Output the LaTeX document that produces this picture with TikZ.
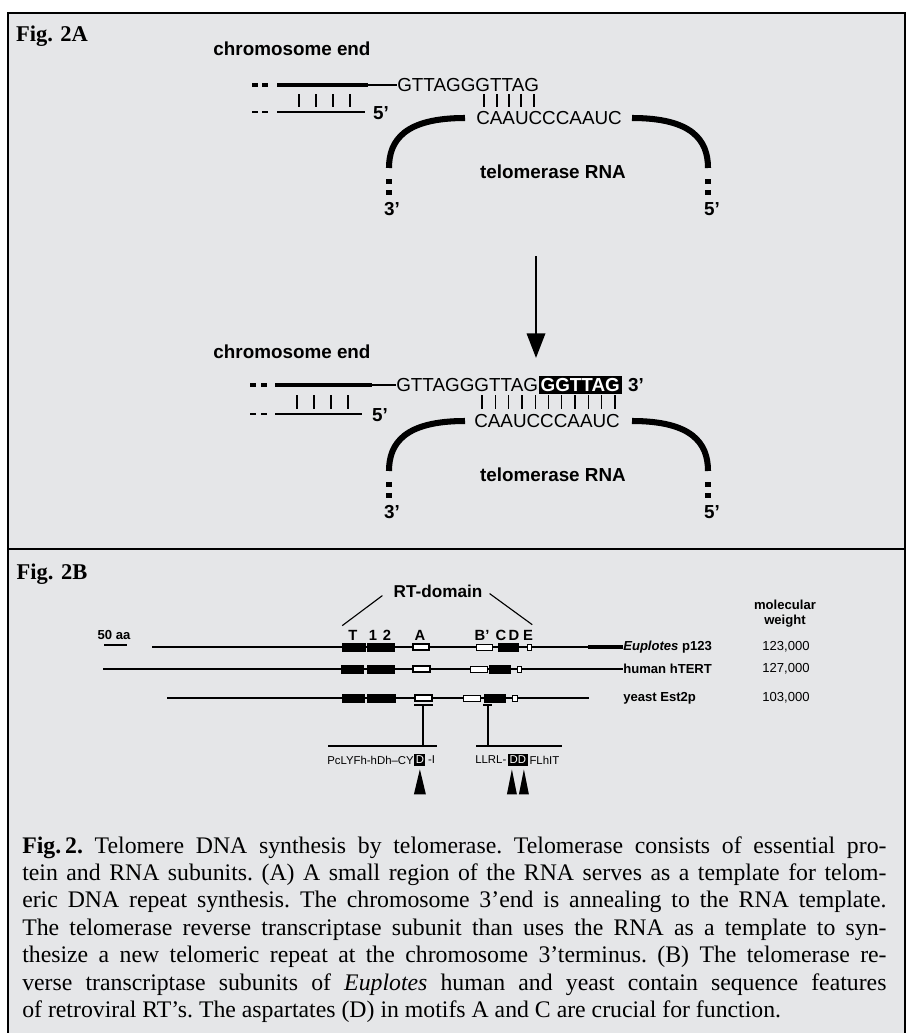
\documentclass[tikz,border=0pt]{standalone}
\usepackage{fontspec}
\setmainfont{Liberation Serif}
\setsansfont{Liberation Sans}
\newfontfamily\capfont{Liberation Serif}
\usetikzlibrary{calc,arrows.meta}
\definecolor{figgray}{RGB}{229,230,232}

\tikzset{
  figlbl/.style={font=\bfseries\fontsize{16}{18}\selectfont, inner sep=0pt},
  lbl/.style={font=\sffamily\bfseries\fontsize{13.4}{16}\selectfont, inner sep=0pt},
  seq/.style={font=\sffamily\fontsize{13.4}{16}\selectfont, inner sep=0pt},
  small/.style={font=\sffamily\bfseries\fontsize{9.3}{11}\selectfont, inner sep=0pt},
  motif/.style={font=\sffamily\bfseries\fontsize{10.5}{12}\selectfont, inner sep=0pt},
  aa/.style={font=\sffamily\fontsize{8.1}{10}\selectfont, inner sep=0pt},
  dbox/.style={aa, fill=black, text=white, inner xsep=1pt, inner ysep=1.5pt},
  strand/.style={line width=2.2pt},
  thinstrand/.style={line width=1.1pt},
  rna/.style={line width=4.3pt},
  pair/.style={line width=0.9pt},
  prot/.style={line width=1.4pt},
  abox/.style={fill=white, line width=2pt},
  wbox/.style={fill=white, line width=0.7pt},
}

\begin{document}
\begin{tikzpicture}[x=0.025cm,y=-0.025cm]
		\useasboundingbox (0,0) rectangle (912,1033);
		\clip (0,0) rectangle (912,1033);
		%%%%% FRAME %%%%%
		\draw[fill=figgray, line width=0.9pt] (8,13) rectangle (905,1050);
		\draw[line width=0.9pt] (8,549) -- (905,549);
		
		%%%%% PANEL A, BEFORE %%%%%
		\node[figlbl] (figA) at (52,36) {Fig. 2A};
		\node[lbl] (chrA) at (292,49) {chromosome end};
		\node[seq, anchor=west] (gA) at (397,85) {GTTAGGGTTAG};
		\node[seq, anchor=west] (cA) at (476,118) {CAAUCCCAAUC};
		\node[lbl] (fA) at (381,113) {5’};
		
		\draw[strand] (252,85) -- (258,85) (262,85) -- (268,85);
		\draw[strand] (277,85) -- (368,85);
		\draw[thinstrand] (368,85) -- (gA.west);
		\draw[thinstrand] (252,112) -- (258,112) (262,112) -- (268,112);
		\draw[thinstrand] (277,112) -- (365,112);
		\foreach \x in {299,316,333,350} \draw[pair] (\x,94) -- (\x,107);
		\foreach \x in {484,497,509,521,534} \draw[pair] (\x,94) -- (\x,107);
		
		\draw[rna] (465,118) .. controls (405,118) and (389,140) .. (389,168);
		\draw[rna] (632,118) .. controls (692,118) and (708,140) .. (708,168);
		\draw[rna] (389,179) -- (389,184) (389,190) -- (389,195);
		\draw[rna] (708,179) -- (708,184) (708,190) -- (708,195);
		\node[lbl] (tA) at (553,172) {telomerase RNA};
		\node[lbl] (threeA) at (392,209) {3’};
		\node[lbl] (fiveA) at (712,209) {5’};
		
		\coordinate (arrTop) at (536,256);
		\coordinate (arrTip) at (536,358);
		\draw[line width=1.8pt, -{Triangle[length=17.5pt,width=13pt]}] (arrTop) -- (arrTip);
		
		%%%%% PANEL A, AFTER %%%%%
		\node[lbl] (chrB) at (292,352) {chromosome end};
		\node[seq, anchor=west] (gB) at (396,385) {GTTAGGGTTAG};
		\node[lbl, anchor=west, fill=black, text=white, inner xsep=1.5pt, inner ysep=2pt] (rep) at (gB.east) {GGTTAG};
		\node[lbl, anchor=west] (threeEnd) at ([xshift=4pt]rep.east) {3’};
		\node[seq, anchor=west] (cB) at (474,421) {CAAUCCCAAUC};
		\node[lbl] (fB) at (380,415) {5’};
		
		\draw[strand] (250,385) -- (256,385) (261,385) -- (267,385);
		\draw[strand] (275,385) -- (372,385);
		\draw[thinstrand] (372,385) -- (gB.west);
		\draw[thinstrand] (250,414) -- (256,414) (261,414) -- (267,414);
		\draw[thinstrand] (275,414) -- (362,414);
		\foreach \x in {297,314,331,348} \draw[pair] (\x,395) -- (\x,409);
		\foreach \i in {0,...,10} \draw[pair] ({482+13.3*\i},395) -- ({482+13.3*\i},409);
		
		\draw[rna] (465,421) .. controls (405,421) and (389,443) .. (389,471);
		\draw[rna] (632,421) .. controls (692,421) and (708,443) .. (708,471);
		\draw[rna] (389,482) -- (389,487) (389,493) -- (389,498);
		\draw[rna] (708,482) -- (708,487) (708,493) -- (708,498);
		\node[lbl] (tB) at (553,475) {telomerase RNA};
		\node[lbl] (threeB) at (392,512) {3’};
		\node[lbl] (fiveB) at (712,512) {5’};
		
		%%%%% PANEL B %%%%%
		\node[figlbl] (figB) at (52,574) {Fig. 2B};
		\node[font=\sffamily\bfseries\fontsize{12.2}{14}\selectfont, inner sep=0pt] (rt) at (438,591) {RT-domain};
		\node[motif] (mT) at (353,635) {T};
		\node[motif] (m1) at (373,635) {1};
		\node[motif] (m2) at (387,635) {2};
		\node[motif] (mA) at (420,635) {A};
		\node[motif] (mB) at (482,635) {B’};
		\node[motif] (mC) at (501,635) {C};
		\node[motif] (mD) at (514,635) {D};
		\node[motif] (mE) at (528,635) {E};
		\draw[line width=0.8pt] ($(rt.south west)+(-11,-2)$) -- ($(mT.north west)+(-6,-4)$);
		\draw[line width=0.8pt] ($(rt.south east)+(7,-4)$) -- ($(mE.north east)+(-1,-5)$);
		
		\node[small] (scale) at (114,635) {50 aa};
		\draw[line width=0.8pt] (104,645) -- (127,645);
		
		\node[small, align=center, font=\sffamily\bfseries\fontsize{9.3}{10.5}\selectfont] (mw) at (785,614) {molecular\\weight};
		\node[small, anchor=west] (eup) at (623,647) {\textit{Euplotes} p123};
		\node[small, anchor=west] (hum) at (623,669) {human hTERT};
		\node[small, anchor=west] (yst) at (623,698) {yeast Est2p};
		\node[small, font=\sffamily\fontsize{9.3}{11}\selectfont] (w1) at (786,647) {123,000};
		\node[small, font=\sffamily\fontsize{9.3}{11}\selectfont] (w2) at (786,669) {127,000};
		\node[small, font=\sffamily\fontsize{9.3}{11}\selectfont] (w3) at (786,698) {103,000};
		
		% Euplotes
		\draw[prot] (152,647) -- (eup.west);
		\draw[line width=2.4pt] (588,647) -- (eup.west);
		\draw[fill=black] (342,643) rectangle (365,651);
		\draw[fill=black] (367,643) rectangle (394,651);
		\draw[abox] (413,644) rectangle (429,650);
		\draw[wbox] (476,644) rectangle (492,650);
		\draw[fill=black] (498,643) rectangle (518,651);
		\draw[wbox] (527,644) rectangle (531,650);
		% human
		\draw[prot] (103,669) -- (hum.west);
		\draw[fill=black] (341,665) rectangle (363,673);
		\draw[fill=black] (367,665) rectangle (394,673);
		\draw[abox] (413,666) rectangle (430,672);
		\draw[wbox] (470,666) rectangle (487,672);
		\draw[fill=black] (489,665) rectangle (510,673);
		\draw[wbox] (517,666) rectangle (521,672);
		% yeast
		\draw[prot] (167,698) -- (589,698);
		\draw[fill=black] (342,694) rectangle (364,702);
		\draw[fill=black] (367,694) rectangle (395,702);
		\draw[abox] (415,695) rectangle (432,701);
		\draw[wbox] (463,695) rectangle (480,701);
		\draw[fill=black] (484,694) rectangle (505,702);
		\draw[wbox] (512,695) rectangle (517,701);
		
		% motif A and C details
		\draw[line width=0.8pt] (414,705) -- (433,705) (483,705) -- (492,705);
		\draw[line width=0.8pt] (423,705) -- (423,746) (488,705) -- (488,746);
		\draw[line width=0.8pt] (328,746) -- (437,746) (476,746) -- (562,746);
		
		\node[aa, anchor=west] (sqA) at (327,760) {PcLYFh-hDh--CY};
		\node[dbox, anchor=west] (sqAD) at (sqA.east) {D};
		\node[aa, anchor=west] (sqAe) at ([xshift=1.5pt]sqAD.east) {-I};
		\node[aa, anchor=west] (sqC) at (475,760) {LLRL-};
		\node[dbox, anchor=west] (sqCD) at ([xshift=1pt]sqC.east) {DD};
		\node[aa, anchor=west] (sqCe) at ([xshift=1pt]sqCD.east) {FLhIT};
		
		\fill ($(sqAD.south)+(0,3)$) -- ++(-6,25) -- ++(12,0) -- cycle;
		\fill ($(sqCD.south)+(-6,3)$) -- ++(-5,25) -- ++(10,0) -- cycle;
		\fill ($(sqCD.south)+(6,3)$) -- ++(-5,25) -- ++(10,0) -- cycle;
		
		%%%%% CAPTION %%%%%
		\node[anchor=north west, inner sep=0pt, text width=21.6cm, align=justify,
		      font=\capfont\fontsize{16.9}{19.5}\selectfont] (cap) at (22,836)
		{\frenchspacing\tolerance=10000\hbadness=10000\textbf{Fig.\,2.} Telomere DNA synthesis by telomerase. Telomerase consists of essential pro-\linebreak
		tein and RNA subunits. (A) A small region of the RNA serves as a template for telom-\linebreak
		eric DNA repeat synthesis. The chromosome 3’end is annealing to the RNA template.\linebreak
		The telomerase reverse transcriptase subunit than uses the RNA as a template to syn-\linebreak
		thesize a new telomeric repeat at the chromosome 3’terminus. (B) The telomerase re-\linebreak
		verse transcriptase subunits of \textit{Euplotes} human and yeast contain sequence features\linebreak
		of retroviral RT’s. The aspartates (D) in motifs A and C are crucial for function.};
	\end{tikzpicture}
\end{document}
